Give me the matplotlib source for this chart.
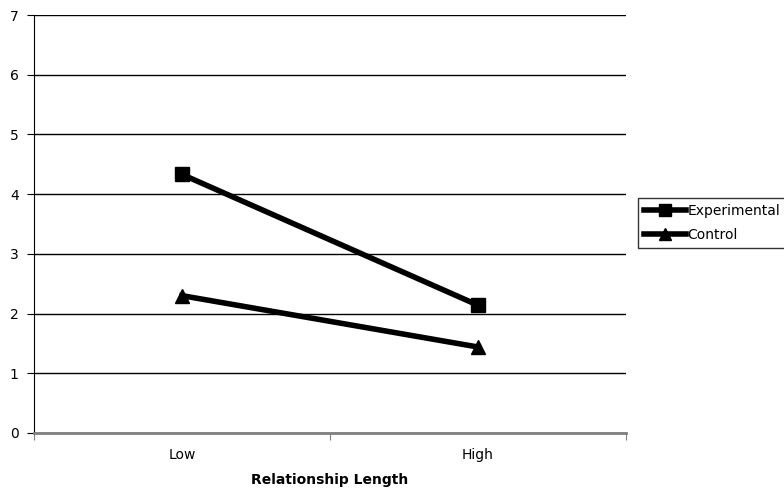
import matplotlib
matplotlib.use("Agg")
import matplotlib.pyplot as plt
import numpy as np

plt.rcParams["font.family"] = ["DejaVu Sans"]

categories = ["Low", "High"]
experimental = [4.33, 2.14]
control = [2.30, 1.44]

fig = plt.figure(figsize=(7.84, 4.92), dpi=100)
ax = fig.add_axes([34 / 784, 59 / 492, 592 / 784, 418 / 492])

x = np.arange(len(categories)) + 0.5
ax.plot(x, experimental, color="black", lw=4, marker="s", ms=10, label="Experimental")
ax.plot(x, control, color="black", lw=4, marker="^", ms=10, label="Control")

ax.set_xlim(0, 2)
ax.set_ylim(0, 7)
ax.set_yticks(range(0, 8))
ax.set_xticks([0, 1, 2])
ax.set_xticklabels([])
ax.set_xticks(x, minor=True)
ax.set_xticklabels(categories, minor=True)
ax.tick_params(axis="x", which="minor", length=0, pad=11, labelsize=10)
ax.tick_params(axis="x", which="major", length=5, direction="out", color="#808080")
ax.tick_params(axis="y", length=5, direction="out", labelsize=10, pad=6)

ax.yaxis.grid(True, color="black", lw=1)
ax.set_axisbelow(True)
for s in ["top", "right"]:
    ax.spines[s].set_visible(False)
ax.spines["bottom"].set_color("#808080")
ax.spines["bottom"].set_linewidth(2)
ax.spines["left"].set_color("black")

ax.set_xlabel("Relationship Length", fontsize=10, fontweight="bold", labelpad=8)

leg = fig.legend(loc="upper left", bbox_to_anchor=(638 / 784, 1 - 198 / 492),
                 frameon=True, fancybox=False, edgecolor="black", fontsize=10,
                 handlelength=3.0, handletextpad=0.1, borderpad=0.45,
                 labelspacing=0.7, borderaxespad=0, markerscale=0.9)
leg.get_frame().set_linewidth(1)

fig.savefig("out.png", dpi=100)
